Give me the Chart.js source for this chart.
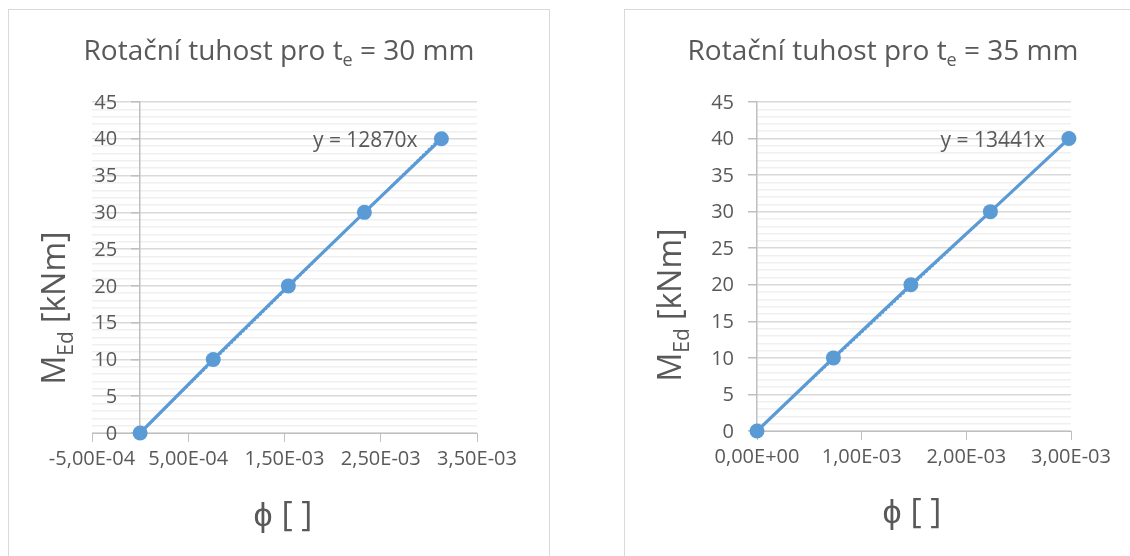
<!DOCTYPE html>
<html><head><meta charset="utf-8">
<script src="https://cdn.jsdelivr.net/npm/chart.js@4.4.1/dist/chart.umd.min.js"></script>
<style>
html,body{margin:0;padding:0;background:#fff;width:1130px;height:556px;overflow:hidden;}
.frame{position:absolute;border:1px solid #d9d9d9;box-sizing:border-box;}
canvas{position:absolute;left:0;top:0;}
</style></head><body>
<div class="frame" style="left:8px;top:9px;width:542px;height:570px"></div>
<div class="frame" style="left:624px;top:9px;width:540px;height:570px"></div>
<canvas id="c1" width="1130" height="556" style="width:1130px;height:556px"></canvas>
<canvas id="c2" width="1130" height="556" style="width:1130px;height:556px"></canvas>
<script>
// ---- data ----
const phi30 = [0, 7.6e-4, 1.54e-3, 2.33e-3, 3.13e-3];
const med30 = [0, 10, 20, 30, 40];
const trend30X = [0, 3.13e-3];
const trend30Y = [0, 40.28];
const phi35 = [0, 7.3e-4, 1.47e-3, 2.23e-3, 2.98e-3];
const med35 = [0, 10, 20, 30, 40];
const trend35X = [0, 2.98e-3];
const trend35Y = [0, 40.05];
const xTicks30 = ['-5,00E-04', '5,00E-04', '1,50E-03', '2,50E-03', '3,50E-03'];
const xTicks35 = ['0,00E+00', '1,00E-03', '2,00E-03', '3,00E-03'];
const yTicks = ['0', '5', '10', '15', '20', '25', '30', '35', '40', '45'];

const BLUE = '#5b9bd5';
const TXT = '#595959';
const AX = '#bfbfbf';
const FONT = "'Open Sans', sans-serif";

function drawParts(ctx, parts, x, y, size, subSize, subOff, align) {
  let w = 0;
  parts.forEach(p => {
    ctx.font = (p.sub ? subSize : size) + 'px ' + FONT;
    p.w = ctx.measureText(p.t).width; w += p.w;
  });
  let cx = align === 'center' ? x - w / 2 : x;
  ctx.textAlign = 'left';
  ctx.textBaseline = 'alphabetic';
  parts.forEach(p => {
    ctx.font = (p.sub ? subSize : size) + 'px ' + FONT;
    ctx.fillText(p.t, cx, y + (p.sub ? subOff : 0));
    cx += p.w;
  });
}

const textPlugin = {
  id: 'texts',
  afterDraw(chart, args, o) {
    const ctx = chart.ctx;
    const xs = chart.scales.x, ys = chart.scales.y;
    ctx.save();
    ctx.fillStyle = TXT;
    // y tick labels (major ticks only), placed left of the y axis line
    const axisX = xs.getPixelForValue(0);
    ctx.font = '20px ' + FONT;
    ctx.textAlign = 'right';
    ctx.textBaseline = 'middle';
    ys.ticks.forEach(t => {
      if (t.value % 5 === 0) ctx.fillText(yTicks[t.value / 5], axisX - 23, ys.getPixelForValue(t.value) + 1);
    });
    drawParts(ctx, o.title, o.titleX, o.titleY, 28, 18, 6, 'center');
    drawParts(ctx, [{t: 'ϕ [ ]'}], o.xtX, o.xtY, 34, 20, 0, 'center');
    ctx.save();
    ctx.translate(o.ytX, o.ytY);
    ctx.rotate(-Math.PI / 2);
    drawParts(ctx, [{t: 'M'}, {t: 'Ed', sub: true}, {t: ' [kNm]'}], 0, 0, 32, 21, 8, 'center');
    ctx.restore();
    // trendline equation
    const px = xs.getPixelForValue(o.eqAt[0]);
    const py = ys.getPixelForValue(o.eqAt[1]);
    ctx.font = '21px ' + FONT;
    ctx.textAlign = 'right';
    ctx.textBaseline = 'alphabetic';
    ctx.fillText(o.eq, px - 24, py + 8);
    ctx.restore();
  }
};

function makeChart(id, c) {
  return new Chart(document.getElementById(id), {
    type: 'scatter',
    plugins: [textPlugin],
    data: {
      datasets: [
        {
          data: c.trendX.map((x, i) => ({x: x, y: c.trendY[i]})),
          showLine: true, borderColor: BLUE, borderWidth: 2, borderDash: [2, 2],
          pointRadius: 0, clip: false, order: 2
        },
        {
          data: c.phi.map((x, i) => ({x: x, y: c.med[i]})),
          showLine: true, borderColor: BLUE, backgroundColor: BLUE, borderWidth: 3.2,
          pointRadius: 7.5, pointBorderWidth: 0, pointBackgroundColor: BLUE, clip: false, order: 1
        }
      ]
    },
    options: {
      responsive: false, animation: false, events: [],
      layout: {padding: {left: c.l, top: c.t, right: 1130 - c.r, bottom: 556 - c.b}},
      plugins: {
        legend: {display: false}, tooltip: {enabled: false},
        texts: c.texts
      },
      scales: {
        x: {
          type: 'linear', position: {y: 0}, min: c.xMin, max: c.xMax,
          ticks: {
            stepSize: 1e-3, autoSkip: false, maxRotation: 0, color: TXT, padding: 6,
            font: {family: FONT, size: 20},
            callback: (v, i) => c.xLabels[i]
          },
          grid: {drawOnChartArea: false, drawTicks: true, tickLength: 8, tickColor: AX},
          border: {color: AX, width: 1}
        },
        y: {
          type: 'linear', position: {x: 0}, min: 0, max: 45,
          ticks: {
            display: false, stepSize: 1, autoSkip: false,
            callback: v => (v % 5 === 0 ? yTicks[v / 5] : '')
          },
          grid: {
            color: ctx => (ctx.tick && ctx.tick.value % 5 === 0 ? '#d9d9d9' : '#f0f0f0'),
            tickColor: ctx => (ctx.tick && ctx.tick.value % 5 === 0 ? AX : 'rgba(0,0,0,0)'),
            tickLength: 8, lineWidth: 1.5
          },
          border: {color: AX, width: 1.5}
        }
      }
    }
  });
}

makeChart('c1', {
  phi: phi30, med: med30, trendX: trend30X, trendY: trend30Y,
  xMin: -5e-4, xMax: 3.5e-3, xLabels: xTicks30,
  l: 92, r: 477, t: 102, b: 433,
  texts: {
    title: [{t: 'Rotační tuhost pro t'}, {t: 'e', sub: true}, {t: ' = 30 mm'}],
    titleX: 279, titleY: 60, xtX: 283, xtY: 526, ytX: 65, ytY: 308,
    eq: 'y = 12870x', eqAt: [trend30X[1], med30[4]]
  }
});
makeChart('c2', {
  phi: phi35, med: med35, trendX: trend35X, trendY: trend35Y,
  xMin: 0, xMax: 3e-3, xLabels: xTicks35,
  l: 757, r: 1071, t: 102, b: 431,
  texts: {
    title: [{t: 'Rotační tuhost pro t'}, {t: 'e', sub: true}, {t: ' = 35 mm'}],
    titleX: 883, titleY: 60, xtX: 912, xtY: 523, ytX: 681, ytY: 305,
    eq: 'y = 13441x', eqAt: [trend35X[1], med35[4]]
  }
});
</script>
</body></html>
